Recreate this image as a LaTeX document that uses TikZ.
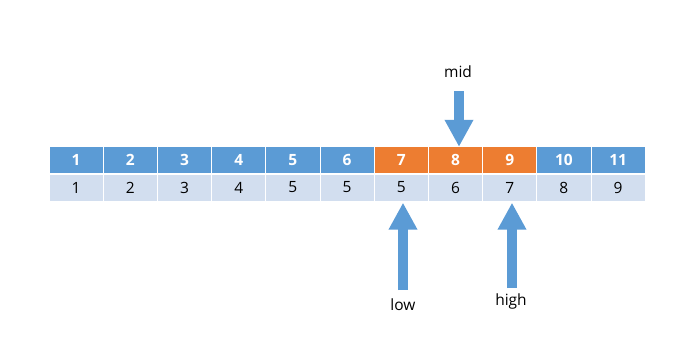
\documentclass[tikz,border=0pt]{standalone}
\usepackage{fontspec}
\setmainfont{Open Sans}
\usepackage{xcolor}
\usetikzlibrary{arrows.meta,positioning}
\definecolor{ArrBlue}{HTML}{5B9BD5}
\definecolor{ArrOrange}{HTML}{ED7D31}
\definecolor{ArrLight}{HTML}{D2DEEF}
\tikzset{
  cell/.style={inner sep=0pt,minimum width=53.2pt,minimum height=26pt,
    font=\fontsize{15.5}{18}\selectfont},
  idxcell/.style={cell,fill=ArrBlue,text=white,font=\fontsize{15.5}{18}\selectfont\bfseries},
  hitcell/.style={idxcell,fill=ArrOrange},
  valcell/.style={cell,fill=ArrLight,text=black},
  label/.style={font=\fontsize{15.5}{18}\selectfont,text=black},
  pointer/.style={-{Triangle[width=27pt,length=27pt]},line width=10pt,draw=ArrBlue}
}

\begin{document}
\begin{tikzpicture}[x=1pt,y=-1pt]
  \useasboundingbox[fill=white] (0,0) rectangle (680,345);
  % index row and value row
  \foreach \i/\v in {1/1,2/2,3/3,4/4,5/5,6/5,7/5,8/6,9/7,10/8,11/9}{
    \ifnum\i>6 \ifnum\i<10
      \node[hitcell] (i\i) at ({49+(\i-0.5)*54.2},160) {\i};
    \else
      \node[idxcell] (i\i) at ({49+(\i-0.5)*54.2},160) {\i};
    \fi\else
      \node[idxcell] (i\i) at ({49+(\i-0.5)*54.2},160) {\i};
    \fi
    \node[valcell] (v\i) at ({49+(\i-0.5)*54.2},187.5) {\v};
  }
  % pointers
  \node[label] (mid) at (458,72) {mid};
  \node[label] (low) at (403,305) {low};
  \node[label] (high) at (511,301) {high};
  \coordinate (midtail) at (459,91);
  \coordinate (lowtail) at (403,290);
  \coordinate (hightail) at (512,288);
  \draw[pointer] (midtail) -- (midtail |- i8.north);
  \draw[pointer] (lowtail) -- ([yshift=-2pt]lowtail |- v7.south);
  \draw[pointer] (hightail) -- ([yshift=-2pt]hightail |- v9.south);
\end{tikzpicture}
\end{document}
